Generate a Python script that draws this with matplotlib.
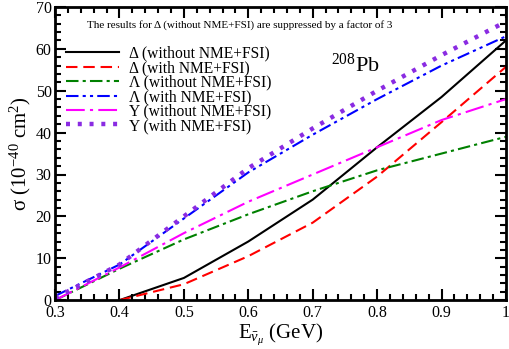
import matplotlib
matplotlib.use("Agg")
import matplotlib.pyplot as plt
from matplotlib.ticker import MultipleLocator

energy = [0.3, 0.4, 0.5, 0.6, 0.7, 0.8, 0.9, 1.0]
delta_energy = [0.4, 0.5, 0.6, 0.7, 0.8, 0.9, 1.0]
delta_without = [0.0, 5.3, 14.0, 24.0, 36.5, 48.5, 62.0]
delta_with = [0.0, 3.8, 10.5, 18.5, 29.5, 42.5, 55.7]
lambda_without = [0.0, 7.5, 14.5, 20.5, 26.0, 31.0, 35.0, 39.0]
lambda_with = [1.0, 8.5, 19.5, 30.5, 39.5, 48.0, 56.0, 63.0]
y_without = [0.0, 7.8, 16.0, 23.5, 30.0, 36.5, 43.0, 48.0]
y_with = [0.5, 8.5, 20.0, 31.5, 41.0, 50.0, 58.5, 66.5]
x_ticks = [0.3, 0.4, 0.5, 0.6, 0.7, 0.8, 0.9, 1.0]
x_tick_labels = ['0.3', '0.4', '0.5', '0.6', '0.7', '0.8', '0.9', '1']

plt.rcParams['font.family'] = ['Liberation Serif', 'DejaVu Serif']
plt.rcParams['mathtext.fontset'] = 'custom'
plt.rcParams['mathtext.rm'] = 'Liberation Serif'
plt.rcParams['mathtext.it'] = 'Liberation Serif:italic'

fig = plt.figure(figsize=(5.1, 3.49), dpi=100)
ax = fig.add_axes([0.108, 0.140, 0.884, 0.840])

lw = 1.5
ax.plot(delta_energy, delta_without, color='black', lw=lw, label='Δ (without NME+FSI)')
ax.plot(delta_energy, delta_with, color='red', lw=lw, dashes=(5.5, 2.8), label='Δ (with NME+FSI)')
ax.plot(energy, lambda_without, color='green', lw=lw, dashes=(6, 2, 1.5, 2), label='Λ (without NME+FSI)')
ax.plot(energy, lambda_with, color='blue', lw=lw, dashes=(6, 2, 1.5, 2, 1.5, 2), label='Λ (with NME+FSI)')
ax.plot(energy, y_without, color='magenta', lw=lw, dashes=(9, 2.5, 1.5, 2.5), label='Y (without NME+FSI)')
ax.plot(energy, y_with, color='#8a2be2', lw=3.2, dashes=(0.9, 1.75), label='Y (with NME+FSI)')

ax.set_xlim(0.3, 1.0)
ax.set_ylim(0, 70)
ax.set_xticks(x_ticks)
ax.set_xticklabels(x_tick_labels)
ax.xaxis.set_minor_locator(MultipleLocator(0.02))
ax.yaxis.set_major_locator(MultipleLocator(10))
ax.yaxis.set_minor_locator(MultipleLocator(2))
ax.tick_params(which='both', direction='in', top=True, right=True, width=1.5, labelsize=11.5)
ax.tick_params(axis='x', pad=3.5)
ax.tick_params(axis='y', pad=2.5)
ax.tick_params(which='major', length=8)
ax.tick_params(which='minor', length=4)
for s in ax.spines.values():
    s.set_linewidth(2)

ax.set_ylabel('σ (10$^{-40}$ cm$^{2}$)', fontsize=15, labelpad=2)
ax.set_xlabel(r'E$_{\bar{\nu}_\mu}$ (GeV)', fontsize=15, labelpad=0)

ax.text(0.41, 0.939, 'The results for Δ (without NME+FSI) are suppressed by a factor of 3',
        transform=ax.transAxes, ha='center', va='center', fontsize=8.0)
ax.text(0.613, 0.80, r'$^{208}$Pb', transform=ax.transAxes, ha='left', va='center', fontsize=16)

leg = ax.legend(loc='upper left', bbox_to_anchor=(0.0, 0.905), frameon=False, fontsize=11.2,
                handlelength=3.4, handletextpad=0.65, labelspacing=-0.1, borderaxespad=0.3)

fig.savefig('out.png', dpi=100)
